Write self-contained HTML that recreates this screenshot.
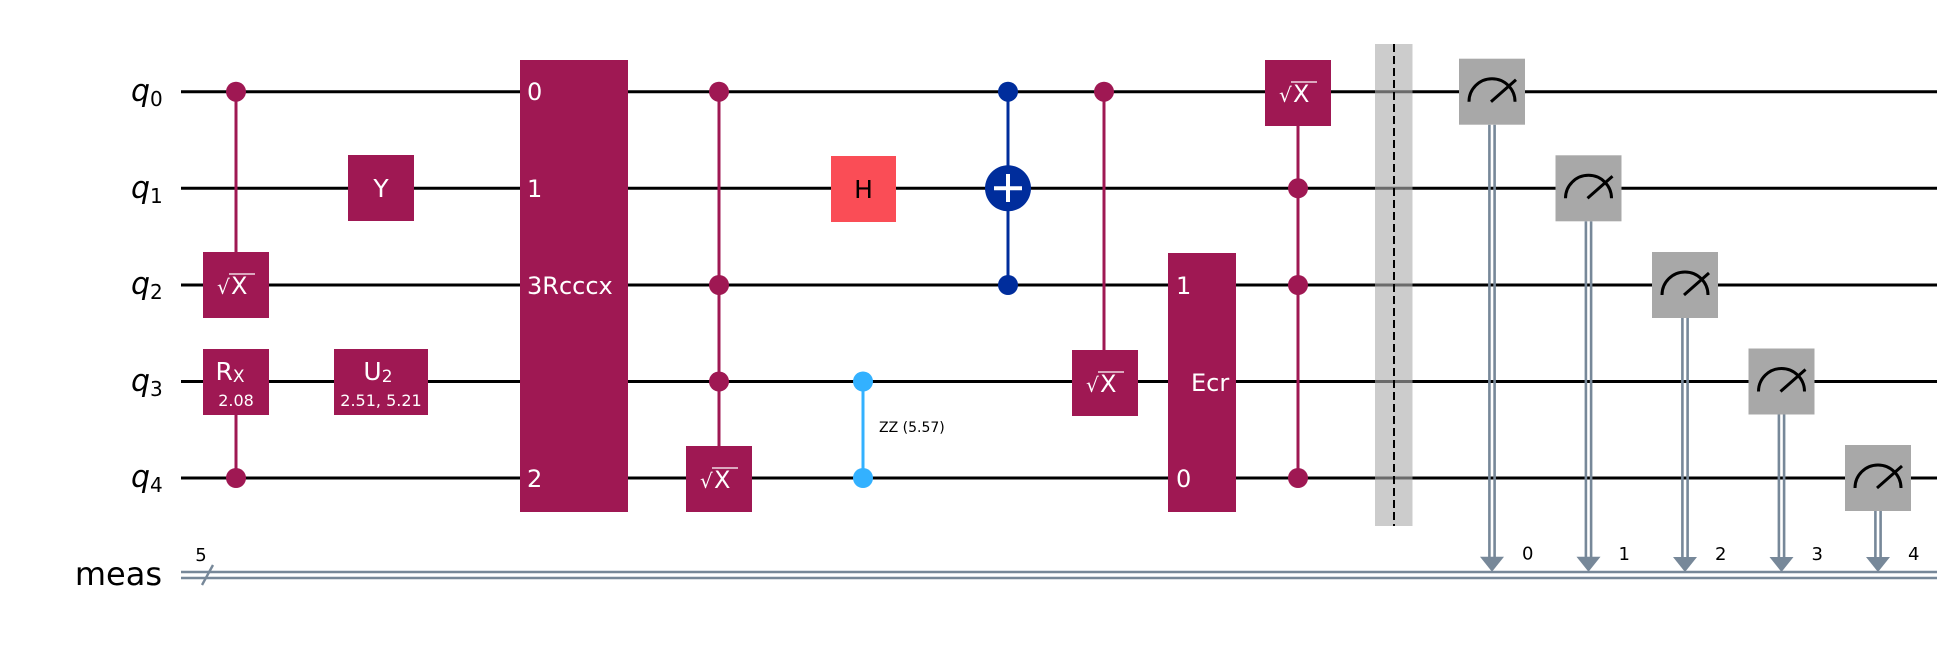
<!DOCTYPE html>
<html><head><meta charset="utf-8"><style>html,body{margin:0;padding:0;background:#fff}svg{display:block}</style></head><body>
<svg width="1955" height="648" viewBox="0 0 1955 648" xmlns="http://www.w3.org/2000/svg" font-family="DejaVu Sans, Liberation Sans, sans-serif">
<rect width="1955" height="648" fill="#fff"/>
<g stroke="#000" stroke-width="3">
<line x1="181" y1="91.7" x2="1937" y2="91.7"/>
<line x1="181" y1="188.3" x2="1937" y2="188.3"/>
<line x1="181" y1="285" x2="1937" y2="285"/>
<line x1="181" y1="381.5" x2="1937" y2="381.5"/>
<line x1="181" y1="478" x2="1937" y2="478"/>
</g>
<g stroke="#778899" stroke-width="2.6">
<line x1="181" y1="572" x2="1937" y2="572"/>
<line x1="181" y1="578" x2="1937" y2="578"/>
<line x1="202" y1="585" x2="213" y2="565" stroke-width="2.4"/>
</g>
<text x="201" y="561" font-size="18" text-anchor="middle">5</text>
<g font-size="30" font-style="italic" text-anchor="end">
<text x="150" y="101">q</text><text x="150" y="198">q</text><text x="150" y="294">q</text><text x="150" y="391">q</text><text x="150" y="487">q</text>
</g>
<g font-size="20">
<text x="150" y="106">0</text><text x="150" y="203">1</text><text x="150" y="299">2</text><text x="150" y="396">3</text><text x="150" y="492">4</text>
</g>
<text x="162" y="585" font-size="32" text-anchor="end">meas</text>

<g fill="#9f1853" stroke="#9f1853" stroke-width="3">
<line x1="236" y1="91.7" x2="236" y2="252"/>
<circle cx="236" cy="91.7" r="10" stroke="none"/>
<line x1="236" y1="414" x2="236" y2="478"/>
<circle cx="236" cy="478" r="10" stroke="none"/>
<rect x="203" y="252" width="66" height="66" stroke="none"/>
<rect x="203" y="349" width="66" height="66" stroke="none"/>
<rect x="348" y="155" width="66" height="66" stroke="none"/>
<rect x="334" y="349" width="94" height="66" stroke="none"/>
<rect x="520" y="60" width="108" height="452" stroke="none"/>
<line x1="719" y1="91.7" x2="719" y2="446"/>
<circle cx="719" cy="91.7" r="10" stroke="none"/>
<circle cx="719" cy="285" r="10" stroke="none"/>
<circle cx="719" cy="381.5" r="10" stroke="none"/>
<rect x="686" y="446" width="66" height="66" stroke="none"/>
<line x1="1104" y1="91.7" x2="1104" y2="350"/>
<circle cx="1104" cy="91.7" r="10" stroke="none"/>
<rect x="1072" y="350" width="66" height="66" stroke="none"/>
<rect x="1168" y="253" width="68" height="259" stroke="none"/>
<line x1="1298" y1="126" x2="1298" y2="478"/>
<circle cx="1298" cy="188.3" r="10" stroke="none"/>
<circle cx="1298" cy="285" r="10" stroke="none"/>
<circle cx="1298" cy="478" r="10" stroke="none"/>
<rect x="1265" y="60" width="66" height="66" stroke="none"/>
</g>
<rect x="831" y="156" width="65" height="66" fill="#fa4d56"/>
<text x="863.5" y="198" font-size="25" text-anchor="middle" fill="#000">H</text>
<line x1="863" y1="381.5" x2="863" y2="478" stroke="#33b1ff" stroke-width="3"/>
<circle cx="863" cy="381.5" r="10" fill="#33b1ff"/>
<circle cx="863" cy="478" r="10" fill="#33b1ff"/>
<text x="879" y="432" font-size="14" fill="#000">ZZ (5.57)</text>
<line x1="1008" y1="91.7" x2="1008" y2="285" stroke="#002d9c" stroke-width="3"/>
<circle cx="1008" cy="91.7" r="10" fill="#002d9c"/>
<circle cx="1008" cy="285" r="10" fill="#002d9c"/>
<circle cx="1008" cy="188.3" r="23" fill="#002d9c"/>
<line x1="994" y1="188.3" x2="1022" y2="188.3" stroke="#fff" stroke-width="4"/>
<line x1="1008" y1="174" x2="1008" y2="202" stroke="#fff" stroke-width="4"/>

<g fill="#fff" font-size="25" text-anchor="middle">
<text x="381" y="197">Y</text>
<text x="230" y="380">R<tspan font-size="17" dy="2">X</tspan></text>
<text x="236" y="406" font-size="16">2.08</text>
<text x="378" y="380">U<tspan font-size="17" dy="2">2</tspan></text>
<text x="381" y="406" font-size="16">2.51, 5.21</text>
</g>
<g fill="#fff" font-size="24">
<text x="527" y="100">0</text>
<text x="527" y="197">1</text>
<text x="527" y="294">3Rcccx</text>
<text x="527" y="487">2</text>
<text x="1176" y="294">1</text>
<text x="1191" y="391">Ecr</text>
<text x="1176" y="487">0</text>
</g>
<g fill="#fff">
<g transform="translate(236,285)"><text x="-19" y="9" font-size="20">√</text><text x="-5" y="9" font-size="24">X</text><line x1="-7" y1="-11" x2="19" y2="-11" stroke="#fff" stroke-width="1.3"/></g>
<g transform="translate(719,479)"><text x="-19" y="9" font-size="20">√</text><text x="-5" y="9" font-size="24">X</text><line x1="-7" y1="-11" x2="19" y2="-11" stroke="#fff" stroke-width="1.3"/></g>
<g transform="translate(1105,383)"><text x="-19" y="9" font-size="20">√</text><text x="-5" y="9" font-size="24">X</text><line x1="-7" y1="-11" x2="19" y2="-11" stroke="#fff" stroke-width="1.3"/></g>
<g transform="translate(1298,93)"><text x="-19" y="9" font-size="20">√</text><text x="-5" y="9" font-size="24">X</text><line x1="-7" y1="-11" x2="19" y2="-11" stroke="#fff" stroke-width="1.3"/></g>
</g>
<rect x="1375" y="44" width="37.5" height="482" fill="rgba(172,172,172,0.62)"/>
<line x1="1394" y1="44" x2="1394" y2="526" stroke="#000" stroke-width="2" stroke-dasharray="8,4"/>

<g transform="translate(1492,91.7)">
<line x1="-2.6" y1="33" x2="-2.6" y2="467" stroke="#778899" stroke-width="2.6"/><line x1="2.6" y1="33" x2="2.6" y2="467" stroke="#778899" stroke-width="2.6"/>
<polygon points="-12,465 12,465 0,480" fill="#778899"/>
<rect x="-33" y="-33" width="66" height="66" fill="#a8a8a8"/>
<path d="M-23,10 A23,23 0 0 1 23,10" fill="none" stroke="#000" stroke-width="3"/>
<line x1="-1" y1="10" x2="24" y2="-12" stroke="#000" stroke-width="3"/>
<text x="30" y="468" font-size="18">0</text>
</g>
<g transform="translate(1588.5,188.3)">
<line x1="-2.6" y1="33" x2="-2.6" y2="370" stroke="#778899" stroke-width="2.6"/><line x1="2.6" y1="33" x2="2.6" y2="370" stroke="#778899" stroke-width="2.6"/>
<polygon points="-12,368.5 12,368.5 0,383.5" fill="#778899"/>
<rect x="-33" y="-33" width="66" height="66" fill="#a8a8a8"/>
<path d="M-23,10 A23,23 0 0 1 23,10" fill="none" stroke="#000" stroke-width="3"/>
<line x1="-1" y1="10" x2="24" y2="-12" stroke="#000" stroke-width="3"/>
<text x="30" y="371.5" font-size="18">1</text>
</g>
<g transform="translate(1685,285)">
<line x1="-2.6" y1="33" x2="-2.6" y2="273" stroke="#778899" stroke-width="2.6"/><line x1="2.6" y1="33" x2="2.6" y2="273" stroke="#778899" stroke-width="2.6"/>
<polygon points="-12,272 12,272 0,287" fill="#778899"/>
<rect x="-33" y="-33" width="66" height="66" fill="#a8a8a8"/>
<path d="M-23,10 A23,23 0 0 1 23,10" fill="none" stroke="#000" stroke-width="3"/>
<line x1="-1" y1="10" x2="24" y2="-12" stroke="#000" stroke-width="3"/>
<text x="30" y="275" font-size="18">2</text>
</g>
<g transform="translate(1781.5,381.5)">
<line x1="-2.6" y1="33" x2="-2.6" y2="177" stroke="#778899" stroke-width="2.6"/><line x1="2.6" y1="33" x2="2.6" y2="177" stroke="#778899" stroke-width="2.6"/>
<polygon points="-12,175.5 12,175.5 0,190.5" fill="#778899"/>
<rect x="-33" y="-33" width="66" height="66" fill="#a8a8a8"/>
<path d="M-23,10 A23,23 0 0 1 23,10" fill="none" stroke="#000" stroke-width="3"/>
<line x1="-1" y1="10" x2="24" y2="-12" stroke="#000" stroke-width="3"/>
<text x="30" y="178.5" font-size="18">3</text>
</g>
<g transform="translate(1878,478)">
<line x1="-2.6" y1="33" x2="-2.6" y2="80" stroke="#778899" stroke-width="2.6"/><line x1="2.6" y1="33" x2="2.6" y2="80" stroke="#778899" stroke-width="2.6"/>
<polygon points="-12,79 12,79 0,94" fill="#778899"/>
<rect x="-33" y="-33" width="66" height="66" fill="#a8a8a8"/>
<path d="M-23,10 A23,23 0 0 1 23,10" fill="none" stroke="#000" stroke-width="3"/>
<line x1="-1" y1="10" x2="24" y2="-12" stroke="#000" stroke-width="3"/>
<text x="30" y="82" font-size="18">4</text>
</g>
</svg>
</body></html>
